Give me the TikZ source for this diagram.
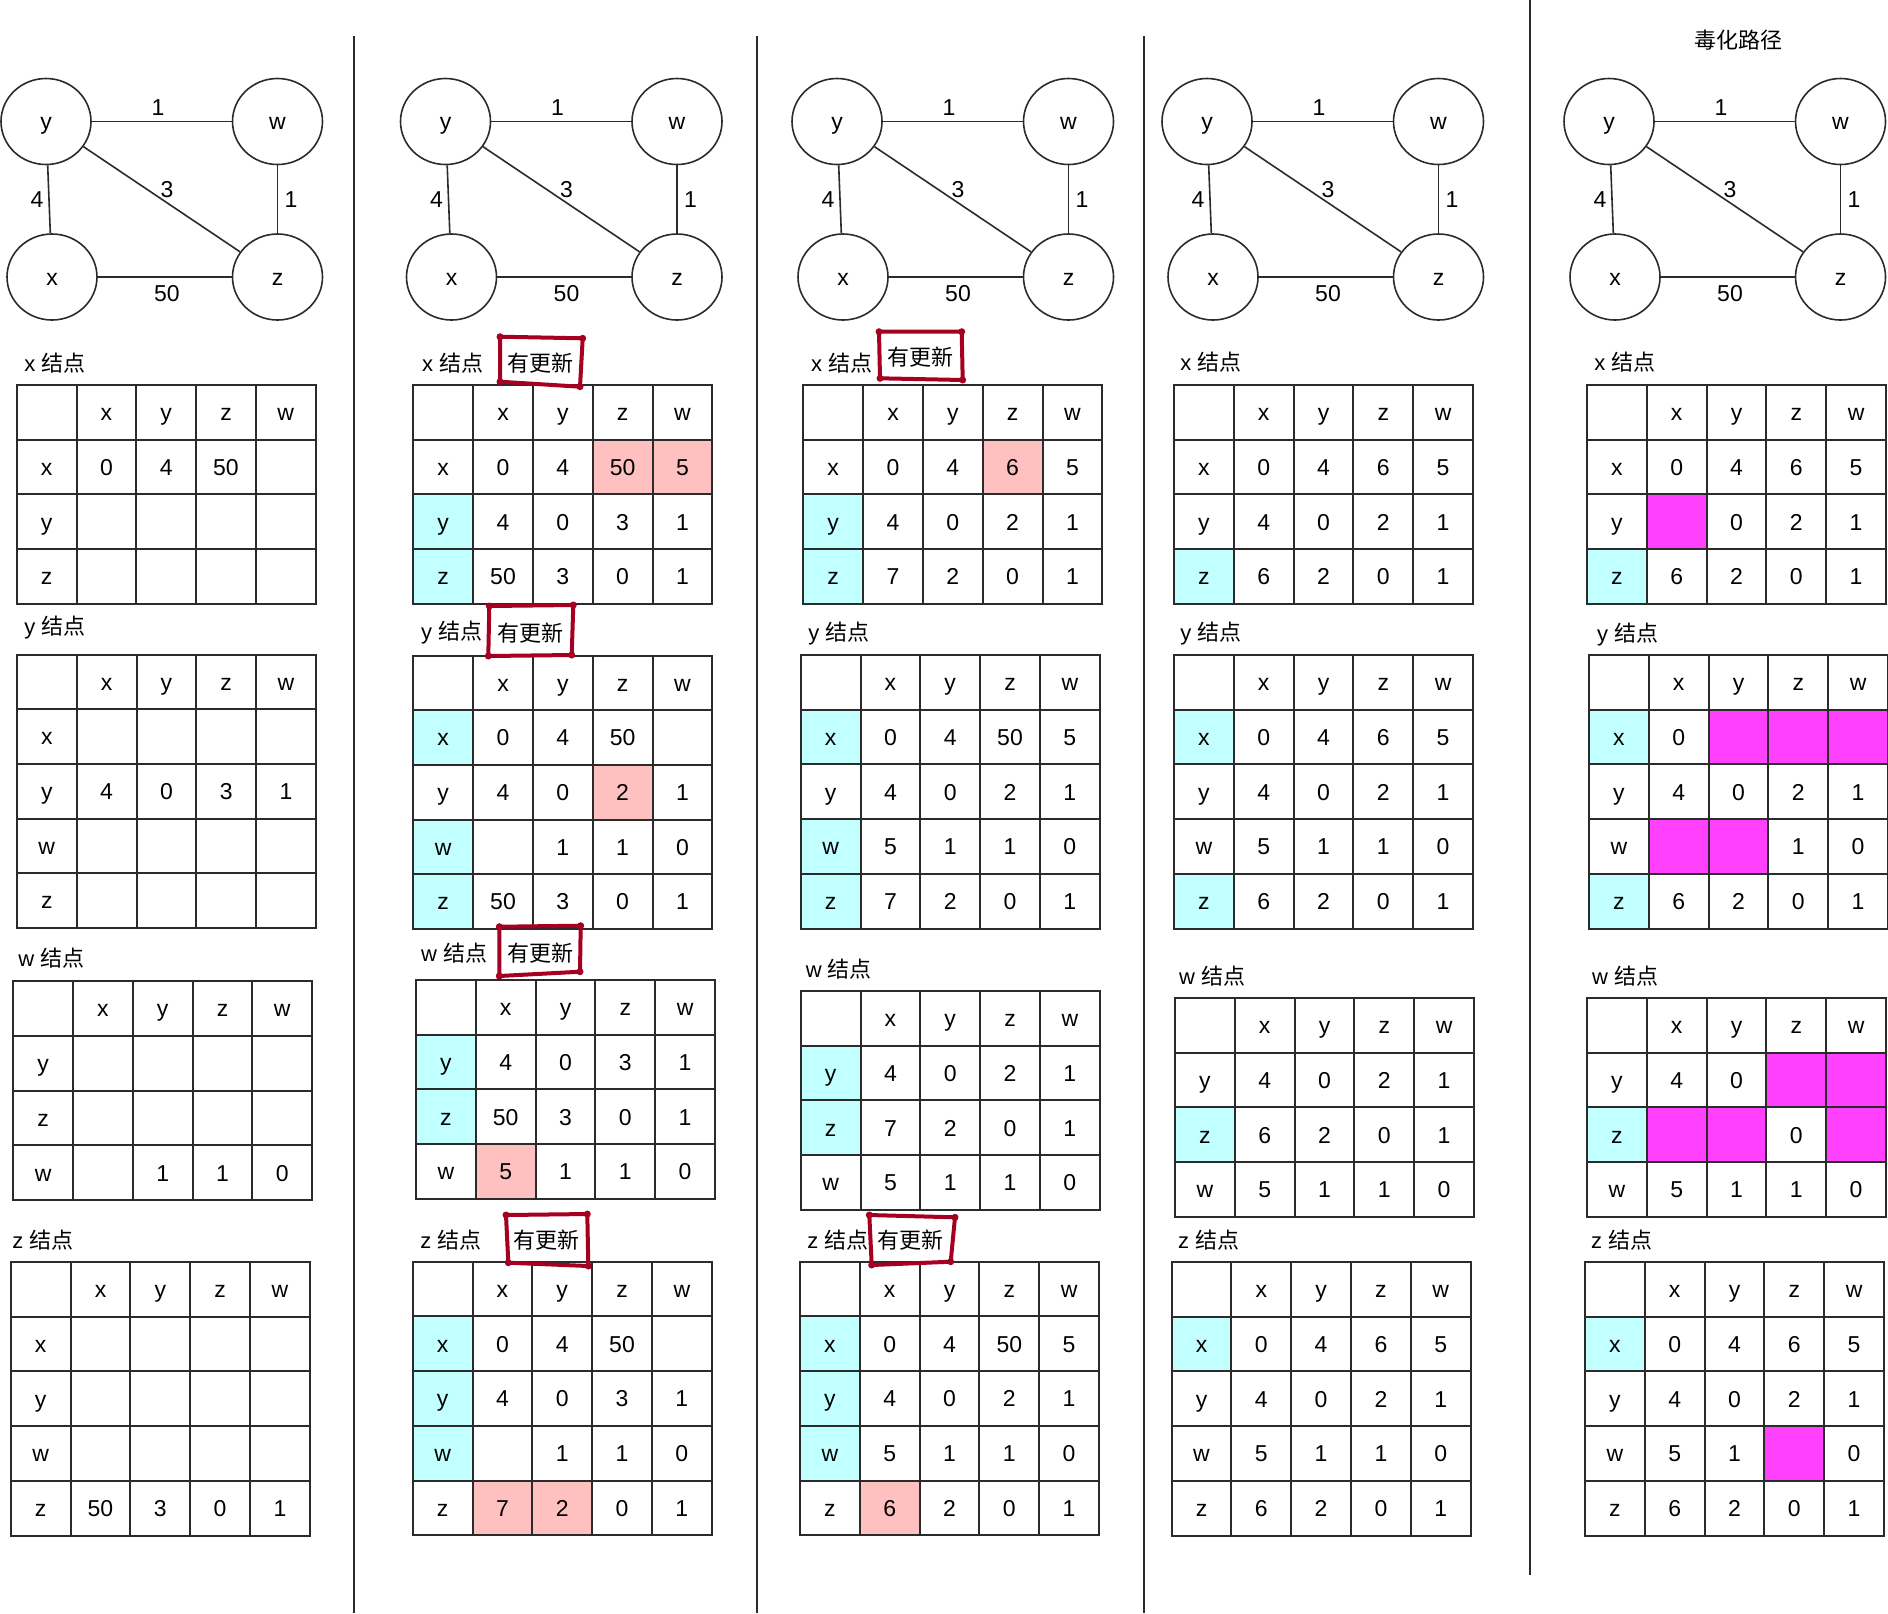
\documentclass[tikz,border=0pt]{standalone}
\usepackage{fontspec}
\setmainfont{Liberation Sans}
\newfontfamily\cjk{Noto Sans CJK SC}
\usetikzlibrary{shapes.geometric}
\definecolor{ccyan}{HTML}{C2FFFF}
\definecolor{cpink}{HTML}{FFC0C0}
\definecolor{cmag}{HTML}{FF40FF}
\definecolor{markred}{HTML}{A50021}
\definecolor{lineg}{HTML}{2B2B2B}
\newcommand\tblW{59.8}
\newcommand\tblH{54.7}
\tikzset{
  gnode/.style={ellipse, draw=lineg, line width=0.8pt, minimum width=45pt, minimum height=43pt, inner sep=0pt, text height=8.25pt, text depth=0pt, font=\fontsize{11.5}{13}\selectfont},
  gedge/.style={draw=lineg, line width=0.8pt},
  glab/.style={inner sep=0pt, font=\fontsize{11.5}{13}\selectfont},
  cell/.style={inner sep=0pt, text height=8.25pt, text depth=0pt, font=\fontsize{11.5}{13}\selectfont},
  gridline/.style={draw=lineg, line width=1pt},
  sepline/.style={draw=lineg, line width=1pt},
  marker/.style={draw=markred, line width=2pt, line join=round, line cap=round},
  tlabel/.style={inner sep=0pt, anchor=west, font=\fontsize{11}{13}\selectfont},
  updtext/.style={inner sep=0pt, font=\fontsize{11}{13}\selectfont\cjk},
}
% graph: prefix, x offset
\newcommand\netgraph[2]{%
  \begin{scope}[shift={(#2,0)}]
    \node[gnode] (#1y) at (46,121.5) {y};
    \node[gnode] (#1w) at (277.5,121.5) {w};
    \node[gnode] (#1x) at (52,277) {x};
    \node[gnode] (#1z) at (277.5,277) {z};
    \draw[gedge] (#1y) -- (#1w);
    \draw[gedge] (#1y) -- (#1x);
    \draw[gedge] (#1y) -- (#1z);
    \draw[gedge] (#1w) -- (#1z);
    \draw[gedge] (#1x) -- (#1z);
    \node[glab] (#1la) at (158,108) {1};
    \node[glab] (#1lb) at (167,190) {3};
    \node[glab] (#1lc) at (37,200) {4};
    \node[glab] (#1ld) at (291,200) {1};
    \node[glab] (#1le) at (167,294) {50};
  \end{scope}}
% table: id, left, top, data rows, fills
\newcommand\dvtable[5]{%
  \begin{scope}[shift={(#2,#3)}]
    \foreach \fc/\fr/\fk in {#5}{%
      \fill[\fk] ({(\fc-1)*\tblW},{(\fr-1)*\tblH}) rectangle ({\fc*\tblW},{\fr*\tblH});}
    \foreach \rowdata [count=\ri] in {{{},x,y,z,w},#4}{%
      \foreach \v [count=\ci] in \rowdata {%
        \draw[gridline] ({(\ci-1)*\tblW},{(\ri-1)*\tblH}) rectangle ({\ci*\tblW},{\ri*\tblH});
        \node[cell] (#1-\ri-\ci) at ({(\ci-0.5)*\tblW},{(\ri-0.5)*\tblH}) {\v};
      }}
  \end{scope}}
% update box: name, text center, four corners
\newcommand\updbox[6]{%
  \node[updtext] (#1) at #2 {有更新};
  \draw[marker] #3 -- #4 -- #5 -- #6 -- cycle;
  \fill[markred] #3 circle (3.5) #4 circle (3.5) #5 circle (3.5) #6 circle (3.5);
}
\newcommand\tlab[4]{\node[tlabel] (#1) at (#2,#3) {#4 {\cjk 结点}};}
\begin{document}
\begin{tikzpicture}[x=0.5pt,y=-0.5pt]
\fill[white] (0,0) rectangle (1888,1613);
\useasboundingbox (0,0) rectangle (1888,1613);

% separators
\draw[sepline] (354,36) -- (354,1613);
\draw[sepline] (757,36) -- (757,1613);
\draw[sepline] (1144,36) -- (1144,1613);
\draw[sepline] (1530,0) -- (1530,1575);

% title
\node[updtext] (title) at (1738.5,40) {毒化路径};

% graphs
\netgraph{ga}{0}
\netgraph{gb}{399.5}
\netgraph{gc}{791}
\netgraph{gd}{1161}
\netgraph{ge}{1563}

% ---------- column 1 ----------
\tlab{la1}{24}{363}{x}
\dvtable{a1}{16.7}{385}{{x,0,4,50,{}},{y,{},{},{},{}},{z,{},{},{},{}}}{1/1/white}
\tlab{la2}{24}{628}{y}
\dvtable{a2}{16.9}{654.5}{{x,{},{},{},{}},{y,4,0,3,1},{w,{},{},{},{}},{z,{},{},{},{}}}{1/1/white}
\tlab{la3}{18}{958.5}{w}
\dvtable{a3}{13.2}{981.3}{{y,{},{},{},{}},{z,{},{},{},{}},{w,{},1,1,0}}{1/1/white}
\tlab{la4}{12}{1240}{z}
\dvtable{a4}{10.8}{1262}{{x,{},{},{},{}},{y,{},{},{},{}},{w,{},{},{},{}},{z,50,3,0,1}}{1/1/white}

% ---------- column 2 ----------
\tlab{lb1}{421.7}{363}{x}
\dvtable{b1}{413.3}{385}{{x,0,4,50,5},{y,4,0,3,1},{z,50,3,0,1}}{4/2/cpink,5/2/cpink,1/3/ccyan,1/4/ccyan}
\tlab{lb2}{420.7}{633}{y}
\dvtable{b2}{413.3}{655.5}{{x,0,4,50,{}},{y,4,0,2,1},{w,{},1,1,0},{z,50,3,0,1}}{1/2/ccyan,4/3/cpink,1/4/ccyan,1/5/ccyan}
\tlab{lb3}{420.7}{953}{w}
\dvtable{b3}{416}{980}{{y,4,0,3,1},{z,50,3,0,1},{w,5,1,1,0}}{1/2/ccyan,1/3/ccyan,2/4/cpink}
\tlab{lb4}{420}{1240}{z}
\dvtable{b4}{412.7}{1261.7}{{x,0,4,50,{}},{y,4,0,3,1},{w,{},1,1,0},{z,7,2,0,1}}{1/2/ccyan,1/3/ccyan,1/4/ccyan,2/5/cpink,3/5/cpink}

\updbox{ub1}{(540,362.7)}{(500,336.7)}{(582.7,338.3)}{(580,386.7)}{(500,381.7)}
\updbox{ub2}{(530,633.3)}{(489.3,606)}{(573.3,605)}{(571.7,655)}{(488.3,656)}
\updbox{ub3}{(540,953.3)}{(499.3,926.7)}{(580.7,925.7)}{(580,971.7)}{(499.3,976)}
\updbox{ub4}{(546.7,1240)}{(506,1215)}{(587.3,1214)}{(588.3,1266)}{(508.3,1262.7)}

% ---------- column 3 ----------
\tlab{lc1}{810.7}{363}{x}
\dvtable{c1}{803.3}{385}{{x,0,4,6,5},{y,4,0,2,1},{z,7,2,0,1}}{4/2/cpink,1/3/ccyan,1/4/ccyan}
\tlab{lc2}{808}{633.3}{y}
\dvtable{c2}{800.7}{655}{{x,0,4,50,5},{y,4,0,2,1},{w,5,1,1,0},{z,7,2,0,1}}{1/2/ccyan,1/4/ccyan,1/5/ccyan}
\tlab{lc3}{805.5}{969.3}{w}
\dvtable{c3}{800.7}{991}{{y,4,0,2,1},{z,7,2,0,1},{w,5,1,1,0}}{1/2/ccyan,1/3/ccyan}
\tlab{lc4}{807}{1240}{z}
\dvtable{c4}{800}{1261.7}{{x,0,4,50,5},{y,4,0,2,1},{w,5,1,1,0},{z,6,2,0,1}}{1/2/ccyan,1/3/ccyan,1/4/ccyan,2/5/cpink}

\updbox{uc1}{(920,356.7)}{(879,331.7)}{(961.7,331.7)}{(962.7,380)}{(880,378.3)}
\updbox{uc4}{(910.7,1240)}{(869.3,1215)}{(955,1217.3)}{(950.7,1261.7)}{(871.7,1265)}

% ---------- column 4 ----------
\tlab{ld1}{1180}{362.5}{x}
\dvtable{d1}{1174}{385}{{x,0,4,6,5},{y,4,0,2,1},{z,6,2,0,1}}{1/4/ccyan}
\tlab{ld2}{1180}{633.3}{y}
\dvtable{d2}{1174}{655}{{x,0,4,6,5},{y,4,0,2,1},{w,5,1,1,0},{z,6,2,0,1}}{1/2/ccyan,1/5/ccyan}
\tlab{ld3}{1178.8}{976.5}{w}
\dvtable{d3}{1175}{998}{{y,4,0,2,1},{z,6,2,0,1},{w,5,1,1,0}}{1/3/ccyan}
\tlab{ld4}{1177.6}{1240}{z}
\dvtable{d4}{1171.6}{1262}{{x,0,4,6,5},{y,4,0,2,1},{w,5,1,1,0},{z,6,2,0,1}}{1/2/ccyan}

% ---------- column 5 ----------
\tlab{le1}{1594}{361.7}{x}
\dvtable{e1}{1587}{385}{{x,0,4,6,5},{y,{},0,2,1},{z,6,2,0,1}}{2/3/cmag,1/4/ccyan}
\tlab{le2}{1596.7}{635}{y}
\dvtable{e2}{1589}{655}{{x,0,{},{},{}},{y,4,0,2,1},{w,{},{},1,0},{z,6,2,0,1}}{1/2/ccyan,3/2/cmag,4/2/cmag,5/2/cmag,2/4/cmag,3/4/cmag,1/5/ccyan}
\tlab{le3}{1591.8}{976.5}{w}
\dvtable{e3}{1587}{998}{{y,4,0,{},{}},{z,{},{},0,{}},{w,5,1,1,0}}{4/2/cmag,5/2/cmag,1/3/ccyan,2/3/cmag,3/3/cmag,5/3/cmag}
\tlab{le4}{1590.6}{1240}{z}
\dvtable{e4}{1585}{1262}{{x,0,4,6,5},{y,4,0,2,1},{w,5,1,{},0},{z,6,2,0,1}}{1/2/ccyan,4/4/cmag}
\end{tikzpicture}
\end{document}
